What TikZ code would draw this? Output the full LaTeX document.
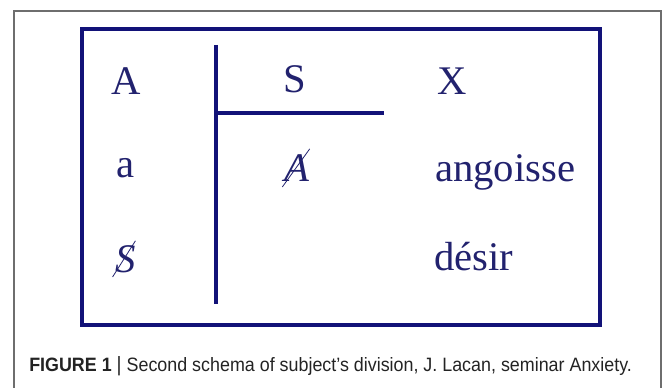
\documentclass[tikz,border=0pt]{standalone}
\usepackage{fontspec}
\setmainfont{Liberation Serif}
\newfontfamily\capfont{Liberation Sans}
\definecolor{navy}{RGB}{18,18,120}
\definecolor{inknavy}{RGB}{34,34,110}
\definecolor{framegray}{RGB}{110,110,110}
\definecolor{captext}{RGB}{35,35,35}
\usetikzlibrary{positioning}
\tikzset{
  sym/.style={text=inknavy,font=\fontsize{30.5}{30}\selectfont,
              inner sep=0pt,anchor=base},
  word/.style={sym,anchor=base west},
  bar/.style={draw=navy,line width=2.4pt},
  slash/.style={draw=inknavy,line width=0.6pt},
}

\begin{document}
\begin{tikzpicture}[x=0.75pt,y=-0.75pt]
  \useasboundingbox (0,0) rectangle (670,388);
  % figure frame, open at the bottom
  \draw[framegray,line width=0.8pt] (14,388) -- (14,11) -- (661,11) -- (661,388);
  % schema box
  \draw[navy,line width=3pt] (82,29.5) rectangle (600,324.5);
  \coordinate (vtop) at (216,45);
  \coordinate (vbot) at (216,304);
  \coordinate (hend) at (384,113);
  \draw[bar] (vtop) -- (vbot);
  \draw[bar] (vtop |- hend) -- (hend);

  % first column
  \node[sym] (bigA) at (126,95) {A};
  \node[sym] (smalla) at (126,178) {a};
  \node[sym] (barS) at (126,272) {\itshape S};
  \draw[slash] ([shift={(-3,5)}]barS.base west) -- ([shift={(-1,-4)}]barS.north east);

  % second column
  \node[sym] (bigS) at (295,93) {S};
  \node[sym] (barA) at (297,182) {\itshape A};
  \draw[slash] ([shift={(-2,5)}]barA.base west) -- ([shift={(0,-6)}]barA.north east);

  % third column
  \node[word] (bigX) at (437,95) {X};
  \node[word] (anx) at (435,182) {angoisse};
  \node[word] (des) at (434,270) {désir};

  % caption
  \node[anchor=base west,inner sep=0pt,text=captext,font=\capfont\fontsize{14.5}{16}\selectfont]
    (cap) at (29,371) {\scalebox{0.925}[1]{\textbf{FIGURE 1} {\fontsize{15.5}{16}\selectfont|} Second schema of subject’s division, J. Lacan, seminar Anxiety.}};
\end{tikzpicture}
\end{document}
